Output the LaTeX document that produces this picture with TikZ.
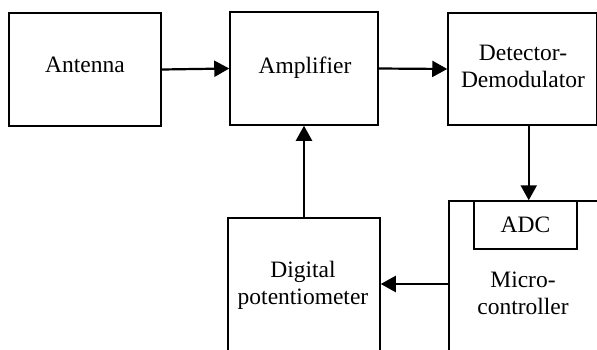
\documentclass[tikz,border=0pt]{standalone}
\usepackage{fontspec}
\setmainfont{Liberation Serif}
\usetikzlibrary{arrows.meta}
\begin{document}
\begin{tikzpicture}[x=1pt,y=-1pt,
  box/.style={draw,line width=1.5pt,inner sep=0pt,fill=none},
  txt/.style={inner sep=0pt,align=center,font=\fontsize{23.5}{27}\selectfont},
  arr/.style={line width=2.2pt,-{Triangle[length=15pt,width=16pt]}}]
\useasboundingbox (0,0) rectangle (597,349);
\clip (0,0) rectangle (597,349);
% boxes
\node[box,minimum width=152pt,minimum height=113pt] (antbox) at (85,69.5) {};
\node[box,minimum width=148pt,minimum height=113pt] (ampbox) at (304,68.5) {};
\node[box,minimum width=148.5pt,minimum height=112pt] (detbox) at (522.25,69) {};
\node[box,minimum width=171pt,minimum height=166pt] (microbox) at (534.5,284) {};
\node[box,minimum width=103pt,minimum height=48pt,txt] (adcbox) at (525.5,225) {ADC};
\node[box,minimum width=152pt,minimum height=152pt] (dpbox) at (304,294) {};
% texts
\node[txt] (anttext) at (85,65.3) {Antenna};
\node[txt,anchor=base] (amptext) at (305,73.3) {Amplifier};
\node[txt] (dettext) at (523,66.3) {Detector-\\Demodulator};
\node[txt] (microtext) at (523,293) {Micro-\\controller};
\node[txt] (dptext) at (303,285.5) {Digital\\potentiometer};
% connectors
\draw[arr] (antbox.east) -- (ampbox.west);
\draw[arr] (ampbox.east) -- (detbox.west);
\coordinate (dettap) at ([xshift=6.5pt]detbox.south);
\draw[arr] (dettap) -- (dettap |- microbox.north);
\draw[arr] (dpbox.north) -- (ampbox.south);
\draw[arr] (microbox.west) -- (microbox.west -| dpbox.east);
\end{tikzpicture}
\end{document}
